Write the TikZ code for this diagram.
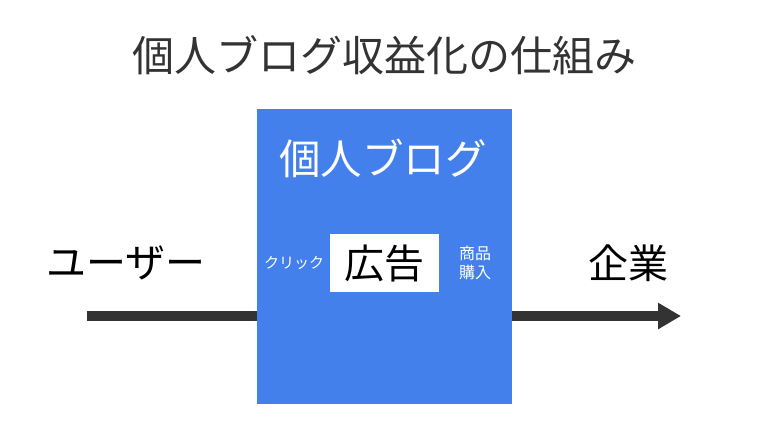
\documentclass[tikz,border=0pt]{standalone}
\usepackage{fontspec}
\newfontfamily\jp{Noto Sans CJK JP}
\usetikzlibrary{arrows.meta}
\definecolor{blogblue}{HTML}{4380EC}
\definecolor{darkline}{HTML}{333333}
\definecolor{titlegray}{HTML}{333333}
\tikzset{
  big/.style={font=\jp\fontsize{40pt}{44pt}\selectfont, inner sep=0pt},
  small/.style={font=\jp\fontsize{15pt}{19pt}\selectfont, inner sep=0pt, text=white, align=center},
}
\begin{document}
\begin{tikzpicture}[x=1pt,y=-1pt]
\useasboundingbox (0,0) rectangle (768,432);
\fill[white] (0,0) rectangle (768,432);
\node[big, text=titlegray, font=\jp\fontsize{42pt}{46pt}\selectfont] (title) at (384,55) {個人ブログ収益化の仕組み};
\coordinate (start) at (87,316);
\coordinate (end) at (681,316);
\draw[darkline, line width=10pt, -{Triangle[length=23pt,width=25pt]}] (start) -- (end);
\node[fill=blogblue, minimum width=255pt, minimum height=295pt, inner sep=0pt, anchor=north west] (blog) at (257,109) {};
\node[big, text=white, font=\jp\fontsize{41.5pt}{46pt}\selectfont] (blogtitle) at (383,158) {個人ブログ};
\node[fill=white, minimum width=109pt, minimum height=58pt, inner sep=0pt] (adbox) at (384.5,263) {};
\node[big, text=black] (ad) at (adbox) {広告};
\node[small] (click) at (294,263) {クリック};
\node[small, font=\jp\fontsize{16pt}{19.5pt}\selectfont] (buy) at (475,263) {商品\\購入};
\node[big, text=black] (user) at (126,263) {ユーザー};
\node[big, text=black] (corp) at (628,263) {企業};
\end{tikzpicture}
\end{document}
